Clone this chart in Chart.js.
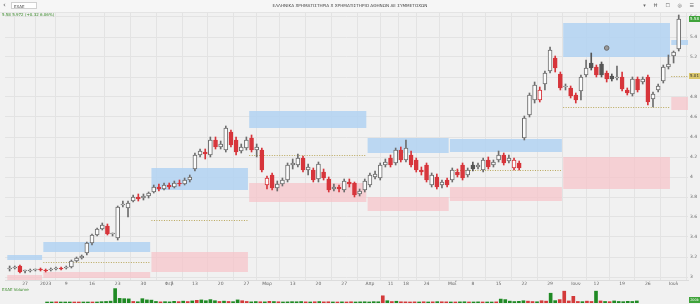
<!DOCTYPE html>
<html><head><meta charset="utf-8">
<script src="https://cdn.jsdelivr.net/npm/chart.js@4/dist/chart.umd.min.js"></script>
<style>
html,body{margin:0;padding:0;background:#f1f1f1;}
#wrap{position:relative;width:700px;height:304px;overflow:hidden;background:#f1f1f1;font-family:"DejaVu Sans",sans-serif;}
#c1{position:absolute;left:0;top:0;}
#c2{position:absolute;left:0;top:285px;}
#bar{position:absolute;left:0;top:0;width:700px;height:12px;background:#f6f6f6;border-bottom:1px solid #e4e4e4;}
#back{position:absolute;left:3px;top:1px;font-size:7px;color:#555;}
#sym{position:absolute;left:11px;top:2px;width:26px;height:7px;background:#fff;border:1px solid #d0d0d0;font-size:4px;line-height:7px;color:#444;padding-left:2px;box-sizing:border-box;}
#title{position:absolute;left:0;width:700px;top:3px;text-align:center;font-size:4.2px;color:#444;}
#icons{position:absolute;right:3px;top:2px;font-size:5px;color:#666;letter-spacing:3px;}
#info{position:absolute;left:2px;top:12px;font-size:4px;color:#3a8a2a;}
#vlab{position:absolute;left:2px;top:287px;font-size:4px;color:#3a8a2a;}
</style></head>
<body><div id="wrap">
<canvas id="c1" width="700" height="290"></canvas>
<canvas id="c2" width="700" height="18"></canvas>
<div id="bar"><span id="back">‹</span><div id="sym">EXAE</div>
<div id="title">ΕΛΛΗΝΙΚΑ ΧΡΗΜΑΤΙΣΤΗΡΙΑ Χ ΧΡΗΜΑΤΙΣΤΗΡΙΟ ΑΘΗΝΩΝ ΑΕ ΣΥΜΜΕΤΟΧΩΝ</div>
<div id="icons">▾ Ħ ☐ ◎ ☰</div></div>
<div id="info">5.58 5.972 (+0.32 6.06%)</div>
<div id="vlab">EXAE Volume</div>
</div>
<script>
// ---- data ----
const open  = [3.08,3.09,3.11,3.06,3.06,3.07,3.08,3.07,3.07,3.08,3.09,3.09,3.10,3.16,3.19,3.24,3.34,3.42,3.48,3.51,3.43,3.39,3.72,3.69,3.76,3.80,3.79,3.81,3.85,3.90,3.88,3.92,3.90,3.94,3.93,3.97,4.08,4.22,4.25,4.22,4.37,4.30,4.27,4.45,4.37,4.26,4.29,4.39,4.27,4.27,3.92,4.02,3.89,3.93,3.97,4.12,4.12,4.19,4.07,4.07,3.98,4.05,3.98,3.88,3.90,3.87,3.95,3.94,3.83,3.87,3.92,4.00,3.99,4.12,4.19,4.14,4.27,4.17,4.22,4.17,4.07,4.12,3.92,4.00,3.92,3.97,3.97,4.05,4.12,4.02,4.12,4.10,4.07,4.17,4.12,4.17,4.22,4.16,4.09,4.14,4.39,4.62,4.77,4.77,4.93,5.06,5.19,5.03,4.90,4.89,4.82,4.86,5.02,5.14,5.10,5.13,5.04,5.01,4.99,5.00,4.87,4.83,4.98,4.95,5.00,4.78,4.87,4.96,5.10,5.21,5.28];
const high  = [3.11,3.11,3.12,3.07,3.08,3.08,3.09,3.08,3.09,3.10,3.10,3.11,3.17,3.20,3.22,3.35,3.43,3.49,3.54,3.53,3.44,3.71,3.76,3.76,3.82,3.83,3.83,3.85,3.92,3.93,3.94,3.94,3.96,3.97,3.99,4.02,4.24,4.28,4.28,4.40,4.40,4.36,4.51,4.47,4.40,4.33,4.40,4.42,4.33,4.29,4.01,4.04,3.96,3.99,4.14,4.18,4.23,4.21,4.13,4.09,4.15,4.08,4.00,3.93,3.92,3.98,3.98,3.95,3.88,3.98,4.04,4.06,4.14,4.18,4.22,4.29,4.30,4.37,4.26,4.19,4.10,4.14,4.04,4.03,3.97,3.99,4.09,4.08,4.14,4.09,4.15,4.14,4.19,4.20,4.17,4.26,4.24,4.22,4.19,4.16,4.61,4.84,4.95,4.90,5.06,5.30,5.21,5.05,4.93,4.91,4.84,5.02,5.17,5.24,5.12,5.15,5.06,5.03,5.11,5.05,4.89,5.00,5.00,5.00,5.02,4.85,4.93,5.12,5.22,5.26,5.62];
const low   = [3.06,3.08,3.04,3.04,3.05,3.06,3.06,3.05,3.06,3.07,3.07,3.08,3.09,3.15,3.18,3.22,3.32,3.41,3.47,3.42,3.41,3.37,3.70,3.60,3.75,3.76,3.77,3.79,3.84,3.86,3.87,3.88,3.89,3.91,3.92,3.95,4.06,4.20,4.18,4.20,4.28,4.28,4.25,4.30,4.22,4.24,4.27,4.25,4.20,4.05,3.88,3.87,3.86,3.91,3.95,4.08,4.10,4.05,4.02,3.95,3.95,3.97,3.85,3.86,3.85,3.85,3.90,3.80,3.81,3.85,3.90,3.98,3.97,4.10,4.10,4.12,4.15,4.15,4.10,4.05,4.02,3.95,3.90,3.88,3.89,3.90,3.95,4.00,3.97,4.00,4.06,4.08,4.05,4.08,4.10,4.15,4.12,4.14,4.07,4.07,4.37,4.60,4.74,4.75,4.87,5.04,5.05,4.87,4.87,4.79,4.74,4.77,5.00,5.07,5.00,5.00,4.95,4.96,4.97,4.86,4.82,4.81,4.85,4.93,4.72,4.70,4.85,4.94,5.08,5.14,5.26];
const close = [3.09,3.10,3.05,3.07,3.07,3.08,3.07,3.06,3.08,3.09,3.08,3.10,3.16,3.19,3.21,3.34,3.42,3.48,3.52,3.43,3.43,3.70,3.73,3.74,3.80,3.78,3.81,3.84,3.90,3.88,3.92,3.90,3.94,3.93,3.97,4.00,4.22,4.26,4.23,4.37,4.30,4.33,4.49,4.32,4.25,4.30,4.37,4.27,4.30,4.07,3.99,3.89,3.93,3.97,4.12,4.14,4.19,4.07,4.10,3.97,4.13,3.99,3.87,3.90,3.88,3.96,3.93,3.82,3.86,3.96,4.02,4.03,4.12,4.15,4.12,4.27,4.17,4.29,4.12,4.07,4.05,3.97,4.02,3.90,3.95,3.92,4.07,4.02,3.99,4.07,4.08,4.12,4.17,4.10,4.15,4.22,4.14,4.19,4.17,4.09,4.59,4.82,4.92,4.87,5.04,5.27,5.09,4.89,4.90,4.81,4.77,5.00,5.09,5.09,5.02,5.02,4.98,4.98,4.99,4.88,4.84,4.98,4.87,4.98,4.75,4.83,4.91,5.10,5.13,5.25,5.58];
const volume = [90,80,110,70,80,70,80,90,80,80,90,100,130,150,180,1400,450,420,400,150,120,420,300,280,150,110,130,110,160,130,180,140,200,260,300,220,330,220,150,180,150,130,300,220,150,110,140,120,110,160,140,120,100,110,130,120,140,110,100,120,140,110,120,100,90,110,100,120,100,110,120,100,130,120,700,220,140,170,120,110,100,110,100,120,100,110,130,120,110,100,100,110,120,100,100,110,100,100,90,110,380,330,180,140,160,220,180,140,120,220,180,950,230,330,1150,200,650,150,130,180,150,1150,200,150,130,200,150,130,160,150,200];
const tickIdx  = [3,7,11,16,21,26,31,36,41,46,50,55,60,65,70,74,77,81,86,90,95,100,105,110,114,119,124,129];
const tickText = ["27","2023","9","16","23","30","Φεβ","13","20","27","Μαρ","13","20","27","Απρ","11","18","24","Μαΐ","8","15","22","29","Ιουν","12","19","26","Ιουλ"];
// monthly zones
const monthStart = [0,7,28,47,70,86,108,129];
const monthEnd   = [6,27,46,69,85,107,128,130];
const blueHi = [3.22,3.35,4.09,4.66,4.39,4.38,5.54,5.37];
const blueLo = [3.17,3.25,3.87,4.49,4.24,4.25,5.20,5.32];
const pinkHi = [3.02,3.05,3.25,3.94,3.80,3.90,4.20,4.80];
const pinkLo = [2.97,2.99,3.05,3.75,3.66,3.76,3.88,4.67];
const midLine = [null,3.15,3.57,4.22,null,4.07,4.70,5.01];
const eventMarks = [{x:116, y:5.29}];

const X_MIN = -0.9, X_MAX = 131.8;
const N = close.length;
const idx = [...Array(N).keys()];
const RED = '#d7353b', DARK = '#555', UPC = '#6d6d6d';
function candleColor(i){ const prev = i>0?close[i-1]:open[i]; return close[i] >= prev ? (close[i]>=open[i]?UPC:DARK) : RED; }
const lineCol = idx.map(candleColor);
const bodyFill = idx.map(i => close[i] >= open[i] ? '#fbfbfb' : lineCol[i]);

const zones = {
  id:'zones',
  beforeDatasetsDraw(chart){
    const {ctx, chartArea:a, scales:{x,y}} = chart;
    ctx.save(); ctx.beginPath(); ctx.rect(a.left,a.top,a.right-a.left,a.bottom-a.top); ctx.clip();
    for (let m=0;m<monthStart.length;m++){
      const x0 = x.getPixelForValue(monthStart[m]-0.45);
      const x1 = m===monthStart.length-1 ? a.right : x.getPixelForValue(monthEnd[m]+0.3);
      ctx.fillStyle='rgba(178,210,242,0.85)';
      ctx.fillRect(x0, y.getPixelForValue(blueHi[m]), x1-x0, y.getPixelForValue(blueLo[m])-y.getPixelForValue(blueHi[m]));
      ctx.fillStyle='rgba(246,196,202,0.75)';
      ctx.fillRect(x0, y.getPixelForValue(pinkHi[m]), x1-x0, y.getPixelForValue(pinkLo[m])-y.getPixelForValue(pinkHi[m]));
      if (midLine[m]!==null){
        const py = Math.round(y.getPixelForValue(midLine[m]))+0.5;
        ctx.strokeStyle='#b9a75a'; ctx.lineWidth=1; ctx.setLineDash([1,1.5]);
        ctx.beginPath(); ctx.moveTo(x0,py); ctx.lineTo(m===monthStart.length-1? chart.width : x1,py); ctx.stroke();
      }
    }
    ctx.restore();
  },
  afterDraw(chart){
    const {ctx, chartArea:a, scales:{y}} = chart;
    ctx.save();
    ctx.font='4px "DejaVu Sans"'; ctx.textAlign='center'; ctx.textBaseline='middle';
    const last = close[N-1];
    let py = y.getPixelForValue(last);
    ctx.fillStyle='#3fa33a'; ctx.fillRect(a.right+1, py-3, 11, 6);
    ctx.fillStyle='#fff'; ctx.fillText(last.toFixed(2), a.right+6.5, py);
    const mv = midLine[midLine.length-1];
    py = y.getPixelForValue(mv);
    ctx.fillStyle='#d9c66b'; ctx.fillRect(a.right+1, py-3, 11, 6);
    ctx.fillStyle='#333'; ctx.fillText(mv.toFixed(2), a.right+6.5, py);
    ctx.restore();
  }
};

new Chart(document.getElementById('c1'), {
  type:'bar',
  data:{ datasets:[
    { data: idx.map(i=>({x:i, y:[low[i], high[i]]})), backgroundColor: lineCol, barThickness:1, grouped:false, order:2 },
    { data: idx.map(i=>({x:i, y:[open[i], close[i]]})), backgroundColor: bodyFill, borderColor: lineCol, borderWidth:1, borderSkipped:false, barThickness:4, minBarLength:1, grouped:false, order:1 },
    { type:'scatter', data: eventMarks, pointRadius:2.3, backgroundColor:'#9a9a9a', borderColor:'#6a6a6a', borderWidth:1, order:0 }
  ]},
  options:{
    responsive:false, animation:false, devicePixelRatio:1,
    layout:{ padding:{ top:12, left:0, right:0, bottom:0 } },
    plugins:{ legend:{display:false}, tooltip:{enabled:false} },
    scales:{
      x:{ type:'linear', min:X_MIN, max:X_MAX, offset:false,
        afterBuildTicks: s => { s.ticks = tickIdx.map(v=>({value:v})); },
        afterFit: s => { s.height = 10; },
        ticks:{ autoSkip:false, maxRotation:0, padding:1, font:{size:4.5, family:'DejaVu Sans'}, color:'#666',
          callback:(v)=>{ const k = tickIdx.indexOf(v); return k>=0 ? tickText[k] : ''; } },
        grid:{ color:'#e3e3e3', drawTicks:false }, border:{ display:true, color:'#dcdcdc' } },
      y:{ position:'right', min:2.97, max:5.65,
        afterFit: s => { s.width = 12; },
        ticks:{ stepSize:0.2, includeBounds:false, padding:2, font:{size:4.5, family:'DejaVu Sans'}, color:'#666',
          callback:(v)=> v < 2.99 ? '' : (Math.abs(v-Math.round(v))<1e-6 ? String(Math.round(v)) : v.toFixed(1)) },
        grid:{ color:'#e3e3e3', drawTicks:false }, border:{ display:false } }
    }
  },
  plugins:[zones]
});

const volColor = idx.map(i => close[i] >= open[i] ? '#1f8a24' : '#d33a3a');
new Chart(document.getElementById('c2'), {
  type:'bar',
  data:{ datasets:[{ data: idx.map(i=>({x:i, y:volume[i]})), backgroundColor: volColor, barThickness:3, minBarLength:1 }] },
  options:{
    responsive:false, animation:false, devicePixelRatio:1,
    layout:{ padding:0 },
    plugins:{ legend:{display:false}, tooltip:{enabled:false} },
    scales:{
      x:{ type:'linear', min:X_MIN, max:X_MAX, display:false },
      y:{ position:'right', min:0, max:1750, afterFit: s => { s.width = 12; },
          ticks:{ display:false }, grid:{ display:false }, border:{ display:false } }
    }
  },
  plugins:[{ id:'vtag', afterDraw(chart){ const {ctx, chartArea:a, scales:{y}} = chart; const v = volume[N-1]; const py = Math.min(y.getPixelForValue(v), a.bottom-3);
    ctx.save(); ctx.fillStyle='#3fa33a'; ctx.fillRect(a.right+1, py-3, 11, 6); ctx.fillStyle='#fff'; ctx.font='3.5px "DejaVu Sans"'; ctx.textAlign='center'; ctx.textBaseline='middle'; ctx.fillText(v+'k', a.right+6.5, py); ctx.restore(); } }]
});
</script>
</body></html>
